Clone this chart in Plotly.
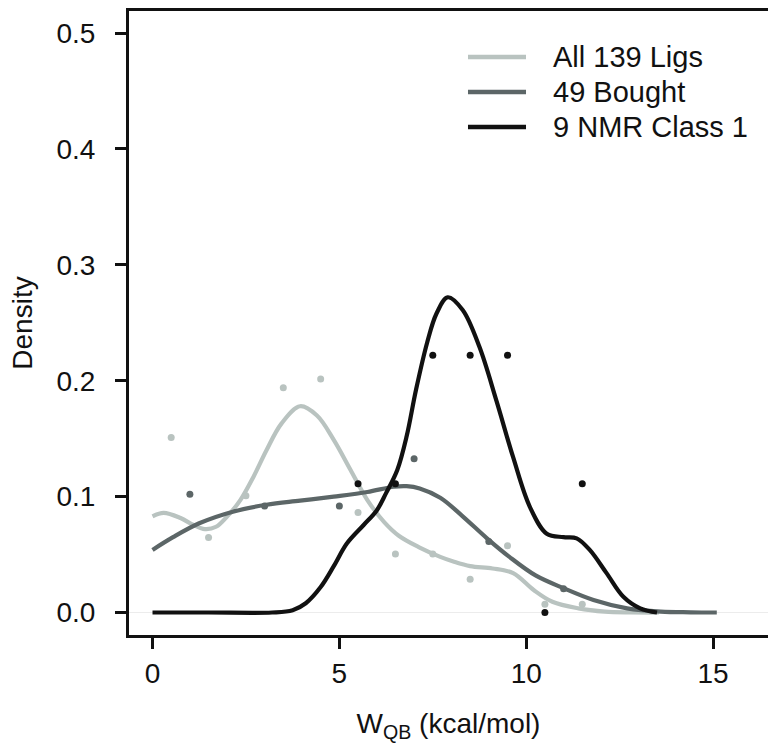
import plotly.graph_objects as go

# ---------------- data ----------------
series_names = ["All 139 Ligs", "49 Bought", "9 NMR Class 1"]
series_colors = ["#b9c3c0", "#5c6667", "#111111"]

# binned densities (dots)
all_bin_x = [0.5, 1.5, 2.5, 3.5, 4.5, 5.5, 6.5, 7.5, 8.5, 9.5, 10.5, 11.5]
all_bin_y = [0.151, 0.0647, 0.1007, 0.194, 0.2014, 0.0863, 0.0504, 0.0504, 0.0288, 0.0576, 0.0072, 0.0072]

bought_bin_x = [1, 3, 5, 7, 9, 11]
bought_bin_y = [0.102, 0.0918, 0.0918, 0.1327, 0.0612, 0.0204]

nmr_bin_x = [5.5, 6.5, 7.5, 8.5, 9.5, 10.5, 11.5]
nmr_bin_y = [0.111, 0.111, 0.222, 0.222, 0.222, 0.0, 0.111]

# density curves
all_kde_x = [0, 0.3, 0.75, 1.1, 1.4, 1.7, 2.0, 2.35, 2.7, 3.05, 3.45, 3.95, 4.4, 4.85,
             5.3, 5.75, 6.2, 6.6, 7.15, 7.7, 8.05, 8.5, 9.1, 9.65, 10.2, 10.7, 11.4,
             12.1, 12.8, 13.55]
all_kde_y = [0.083, 0.086, 0.0815, 0.0755, 0.072, 0.074, 0.083, 0.097, 0.117, 0.140,
             0.163, 0.178, 0.170, 0.149, 0.123, 0.097, 0.078, 0.066, 0.056, 0.048,
             0.044, 0.040, 0.038, 0.034, 0.0194, 0.0093, 0.0036, 0.0008, 0.0001, 0.0]

bought_kde_x = [0, 0.55, 1.25, 2.15, 3.05, 3.95, 4.85, 5.75, 6.45, 6.8, 7.15, 7.7,
                8.3, 8.95, 9.55, 10.25, 11.0, 11.8, 12.7, 13.6, 14.4, 15.1]
bought_kde_y = [0.054, 0.065, 0.077, 0.087, 0.093, 0.0965, 0.100, 0.104, 0.1085, 0.109,
                0.107, 0.099, 0.083, 0.064, 0.048, 0.032, 0.021, 0.0108, 0.0036,
                0.0008, 0.0002, 0.0]

nmr_kde_x = [0, 1.5, 3.2, 3.75, 4.1, 4.5, 4.85, 5.2, 5.65, 6.0, 6.25, 6.55, 6.8, 7.05,
             7.35, 7.6, 7.9, 8.3, 8.75, 9.2, 9.65, 10.1, 10.55, 11.0, 11.35, 11.7,
             12.15, 12.6, 13.05, 13.5]
nmr_kde_y = [0, 0, 0, 0.002, 0.008, 0.022, 0.040, 0.0595, 0.0755, 0.088, 0.103, 0.123,
             0.152, 0.192, 0.233, 0.258, 0.272, 0.261, 0.229, 0.183, 0.134, 0.091,
             0.068, 0.065, 0.064, 0.054, 0.034, 0.0136, 0.0036, 0.0]

x_ticks = [0, 5, 10, 15]
y_ticks = [0.0, 0.1, 0.2, 0.3, 0.4, 0.5]
x_title = "W<sub>QB</sub> (kcal/mol)"
y_title = "Density"

# ---------------- figure ----------------
FONT = "Liberation Sans, Arial, Helvetica, sans-serif"
FS_TICK = 28
FS_LEG = 29
FS_TITLE = 28

fig = go.Figure()
kdes = [(all_kde_x, all_kde_y), (bought_kde_x, bought_kde_y), (nmr_kde_x, nmr_kde_y)]
bins = [(all_bin_x, all_bin_y), (bought_bin_x, bought_bin_y), (nmr_bin_x, nmr_bin_y)]

for (kx, ky), name, col in zip(kdes, series_names, series_colors):
    fig.add_trace(go.Scatter(x=kx, y=ky, mode="lines", name=name,
                             line=dict(color=col, width=4.2, shape="spline", smoothing=1.0),
                             showlegend=False, hoverinfo="skip"))
for (bx, by), name, col in zip(bins, series_names, series_colors):
    fig.add_trace(go.Scatter(x=bx, y=by, mode="markers", name=name,
                             marker=dict(color=col, size=7),
                             showlegend=False, hoverinfo="skip"))

# manual legend (long keys like the reference)
leg_y = [0.9263, 0.8702, 0.8141]
for name, col, yy in zip(series_names, series_colors, leg_y):
    fig.add_shape(type="line", xref="paper", yref="paper", x0=0.5305, x1=0.6213,
                  y0=yy, y1=yy, line=dict(color=col, width=4.5))
    fig.add_annotation(xref="paper", yref="paper", x=0.6604, y=yy, text=name,
                       showarrow=False, xanchor="left", yanchor="middle",
                       font=dict(family=FONT, size=FS_LEG, color="#111111"))

fig.update_layout(
    width=768, height=745,
    margin=dict(l=129, r=0, t=11, b=110),
    paper_bgcolor="white", plot_bgcolor="white",
    font=dict(family=FONT, size=FS_TICK, color="#111111"),
    showlegend=False,
)
fig.update_xaxes(range=[-0.629, 16.47], tickvals=x_ticks, ticktext=[str(v) for v in x_ticks],
                 showgrid=False, zeroline=False,
                 showline=True, linecolor="#111111", linewidth=3, mirror=True,
                 ticks="outside", ticklen=11, tickwidth=3, tickcolor="#111111",
                 ticklabelstandoff=0, tickfont=dict(size=FS_TICK),
                 title=dict(text=x_title, font=dict(size=FS_TITLE), standoff=26))
fig.update_yaxes(range=[-0.0194, 0.519], tickvals=y_ticks,
                 ticktext=["%.1f" % v for v in y_ticks],
                 showgrid=False, zeroline=True, zerolinecolor="#ececec", zerolinewidth=1,
                 showline=True, linecolor="#111111", linewidth=3, mirror=False,
                 ticks="outside", ticklen=11, tickwidth=3, tickcolor="#111111",
                 ticklabelstandoff=14, tickfont=dict(size=FS_TICK),
                 title=dict(text=y_title, font=dict(size=FS_TITLE), standoff=16))

fig.write_html("out.html")
